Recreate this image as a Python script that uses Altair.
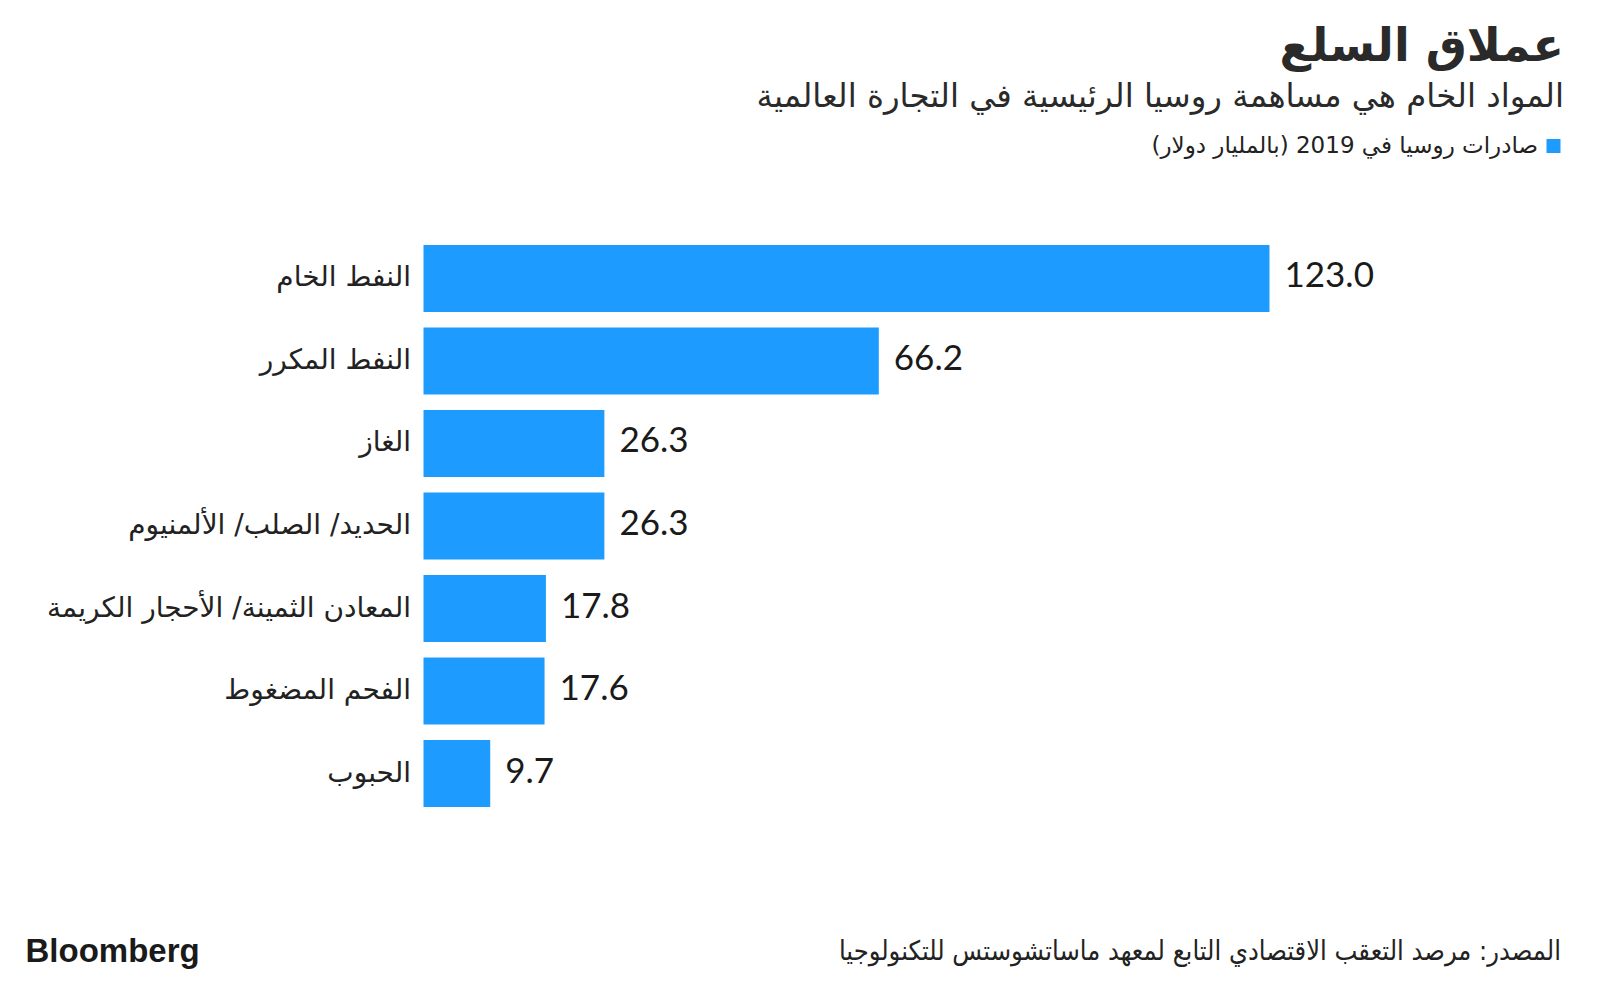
import altair as alt
import pandas as pd

categories = [
    "النفط الخام",
    "النفط المكرر",
    "الغاز",
    "الحديد/ الصلب/ الألمنيوم",
    "المعادن الثمينة/ الأحجار الكريمة",
    "الفحم المضغوط",
    "الحبوب",
]
values = [123.0, 66.2, 26.3, 26.3, 17.8, 17.6, 9.7]

title_text = ["عملاق السلع"]
subtitle_text = ["المواد الخام هي مساهمة روسيا الرئيسية في التجارة العالمية"]
legend_text = ["صادرات روسيا في 2019 (بالمليار دولار)"]
source_text = ["المصدر: مرصد التعقب الاقتصادي التابع لمعهد ماساتشوستس للتكنولوجيا"]
brand_text = ["Bloomberg"]

df = pd.DataFrame({"category": categories, "value": values})

W, H = 1140, 595
BLUE = "#1d9bff"
AR = "DejaVu Sans"
DARK = "#222222"

y = alt.Y(
    "category:N",
    sort=categories,
    title=None,
    scale=alt.Scale(paddingInner=0.188, paddingOuter=0.2),
    axis=alt.Axis(
        domain=False, ticks=False, labelPadding=13, labelFont=AR,
        labelFontSize=28, labelColor=DARK, labelLimit=420,
    ),
)
x = alt.X("value:Q", scale=alt.Scale(domain=[0, 165.75], nice=False), axis=None)

bars = alt.Chart(df).mark_bar(color=BLUE).encode(x=x, y=y)
vals = alt.Chart(df).mark_text(
    align="left", baseline="middle", dx=15, dy=-2, font="Lato", fontSize=35, color="#1a1a1a"
).encode(x=x, y=y, text=alt.Text("value:Q", format=".1f"))


def txt(lst, xv, yv, **kw):
    return alt.Chart(pd.DataFrame({"t": lst})).mark_text(**kw).encode(
        x=alt.value(xv), y=alt.value(yv), text="t:N"
    )


title = txt(title_text, W + 0.5, -167.5, align="right", baseline="alphabetic",
            font=AR, fontSize=46, fontWeight="bold", color="#2a2a2a", dir="rtl")
subtitle = txt(subtitle_text, W + 0.5, -121.5, align="right", baseline="alphabetic",
               font=AR, fontSize=32.4, color="#2a2a2a", dir="rtl")
legend_lbl = txt(legend_text, 1114.5, -75.5, align="right", baseline="alphabetic",
                 font=AR, fontSize=23, color=DARK, dir="rtl")
legend_sq = alt.Chart(pd.DataFrame({"t": legend_text})).mark_square(
    size=196, color=BLUE, opacity=1, filled=True
).encode(x=alt.value(1130), y=alt.value(-82.5))
source = txt(source_text, 1137.5, 731.5, align="right", baseline="alphabetic",
             font="DejaVu Sans Condensed", fontSize=27, color=DARK, dir="rtl")
brand = txt(brand_text, -398, 733, align="left", baseline="alphabetic",
            font="Liberation Sans", fontSize=33, fontWeight="bold", color="#1a1a1a")

chart = alt.layer(bars, vals, title, subtitle, legend_lbl, legend_sq, source, brand).properties(
    width=W, height=H,
    autosize=alt.AutoSizeParams(type="none"),
    padding={"left": 415.5, "top": 220.5, "right": 0, "bottom": 150},
    background="white",
).configure_view(stroke=None)

chart.save("out.html", embed_options={"renderer": "svg", "actions": False})
